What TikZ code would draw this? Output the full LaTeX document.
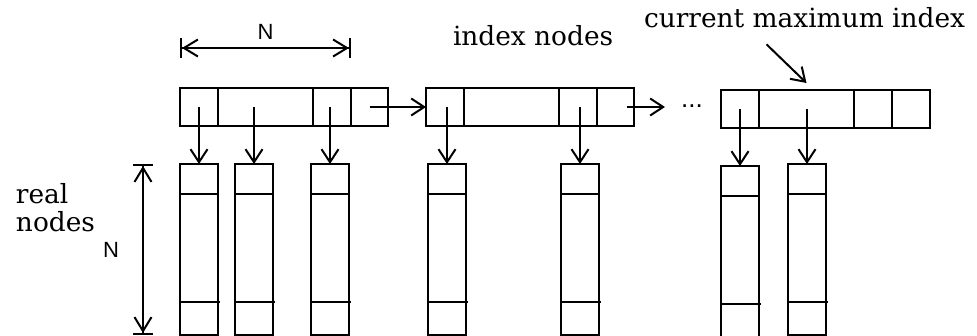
\documentclass[tikz,border=0pt]{standalone}
\usepackage{fontspec}
\setmainfont{DejaVu Serif}
\newfontfamily\nsans{Liberation Sans}
\usetikzlibrary{arrows.meta, positioning}

\begin{document}
\begin{tikzpicture}[x=1pt, y=-1pt, line width=2pt,
    >={Straight Barb[length=13pt, width=17pt]},
    cell/.style={draw, minimum width=#1, minimum height=38pt, inner sep=0pt, outer sep=0pt},
    rnode/.style={draw, minimum width=38pt, minimum height=171pt, inner sep=0pt, outer sep=0pt, anchor=north},
    lbl/.style={font=\fontsize{26.4}{28}\selectfont, inner sep=0pt},
    nlbl/.style={font=\nsans\fontsize{22}{24}\selectfont, inner sep=0pt},
    dim/.style={{Bar[width=20pt]Straight Barb[length=14pt, width=17pt]}-{Straight Barb[length=14pt, width=17pt]Bar[width=20pt]}}]
\useasboundingbox (0,0) rectangle (977,335);

% index nodes
\foreach \b/\x/\y/\w in {a/180/107/37, b/426/107/37, c/721/109/38}{
  \node[cell=38pt, anchor=west] (\b1) at (\x,\y) {};
  \node[cell=95pt, right=0pt of \b1] (\b2) {};
  \node[cell=38pt, right=0pt of \b2] (\b3) {};
  \node[cell=\w pt, right=0pt of \b3] (\b4) {};
}

% real nodes
\foreach \n/\x/\y in {1/199/164, 2/254/164, 3/330/164, 4/447/164, 5/580/164, 6/740/166, 7/807/164}{
  \node[rnode] (r\n) at (\x,\y) {};
  \draw (r\n.north west) ++(0,30) -- ++(38,0);
  \draw (r\n.north west) ++(0,138) -- ++(40,0);
}

% pointers
\foreach \n/\c in {1/a1, 2/a2, 3/a3, 4/b1, 5/b3, 6/c1, 7/c2}
  \draw[->] (r\n.north |- \c.center) -- (r\n.north);
\draw[->] (a4.center) -- (b1.west);
\node[font=\nsans\fontsize{26}{28}\selectfont, inner sep=0pt, anchor=base] (dots) at (692,107) {...};
\draw[->] ([xshift=11pt]b4.center) -- ([xshift=-27pt]dots.center |- b4.center);

% labels
\node[lbl, anchor=base west] (idx) at (452,45) {index nodes};
\node[lbl, anchor=base west] (cur) at (643,27) {current maximum index};
\draw[->] ([xshift=-38pt, yshift=-16pt]cur.south) -- ([yshift=7pt]c2.north);
\node[lbl, align=left, anchor=north west] (real) at (15,182) {real\\nodes};

% sizes
\draw[dim] ([yshift=40pt]a1.north west) -- ([yshift=40pt]a3.north east)
  node[midway, above=8pt, nlbl] {N};
\draw[dim] ([xshift=-37pt]r1.north west) -- ([xshift=-37pt]r1.south west)
  node[midway, left=23pt, nlbl] {N};
\end{tikzpicture}
\end{document}
